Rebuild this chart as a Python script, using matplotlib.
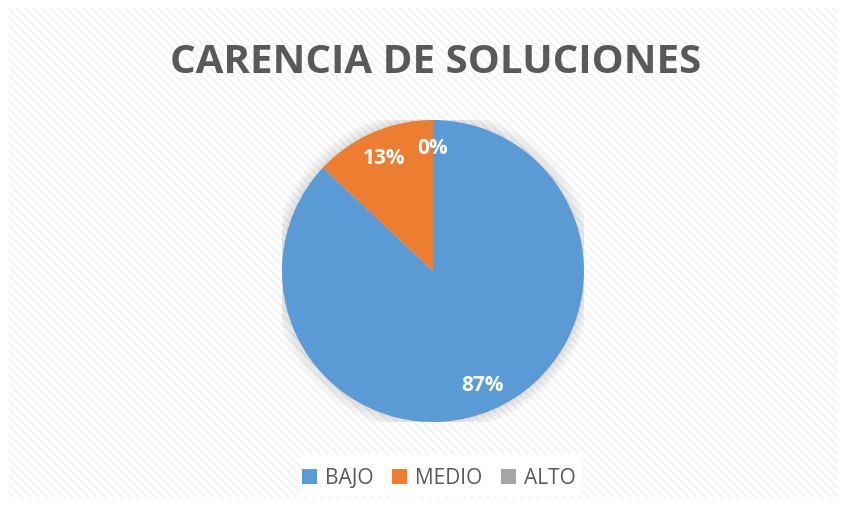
import matplotlib
matplotlib.use("Agg")
import matplotlib.pyplot as plt
from matplotlib.patches import Rectangle, Circle
import numpy as np

categories = ["BAJO", "MEDIO", "ALTO"]
values = [87, 13, 0]
labels_pct = ["87%", "13%", "0%"]
colors = ["#5B9BD5", "#ED7D31", "#A5A5A5"]

W, H = 847, 506
plt.rcParams["hatch.linewidth"] = 1.3
fig = plt.figure(figsize=(W / 100, H / 100), dpi=100)
fig.patch.set_facecolor("white")

# background with diagonal hatch
bg = fig.add_axes([0, 0, 1, 1])
bg.set_xlim(0, W)
bg.set_ylim(H, 0)
bg.axis("off")
bg.add_patch(Rectangle((9, 9), 829, 490, facecolor="white", edgecolor="#f2f2f2",
                       linewidth=0, hatch="\\\\\\\\"))
bg.add_patch(Rectangle((300, 455), 282, 42, facecolor="white", edgecolor="none"))

# title
fig.text(436 / W, 1 - 63 / H, "CARENCIA DE SOLUCIONES", ha="center", va="center",
         fontsize=29, fontweight="bold", color="#595959", family="Open Sans")

# pie
cx, cy, r = 433, 272, 151
ax = fig.add_axes([(cx - r) / W, 1 - (cy + r) / H, 2 * r / W, 2 * r / H])
ax.axis("off")
wedges, _ = ax.pie(values, colors=colors, startangle=90, counterclock=False,
                   radius=1, wedgeprops=dict(linewidth=0))
# soft shadow
for i in range(10):
    ax.add_patch(Circle((0, 0), 1.0 + 0.008 * (10 - i), facecolor="#000000", alpha=0.012,
                        edgecolor="none", zorder=0))
start = 90.0
total = sum(values)
for v, lab in zip(values, labels_pct):
    mid = start - 360 * v / total / 2
    x = 0.82 * np.cos(np.radians(mid))
    y = 0.82 * np.sin(np.radians(mid))
    ax.text(x, y, lab, ha="center", va="center", color="white", fontsize=15,
            fontweight="bold", family="Open Sans")
    start -= 360 * v / total
ax.set_xlim(-1, 1)
ax.set_ylim(-1, 1)
ax.set_aspect("equal")

# legend
handles = [Rectangle((0, 0), 1, 1, facecolor=c, edgecolor="none") for c in colors]
fig.legend(handles, categories, loc="center", bbox_to_anchor=(439 / W, 1 - 479 / H),
           ncol=3, frameon=False, labelcolor="#595959",
           handlelength=0.7, handleheight=0.7, handletextpad=0.4, columnspacing=0.9,
           prop=dict(family="Open Sans", size=15))

fig.savefig("out.png", dpi=100, facecolor="white")
